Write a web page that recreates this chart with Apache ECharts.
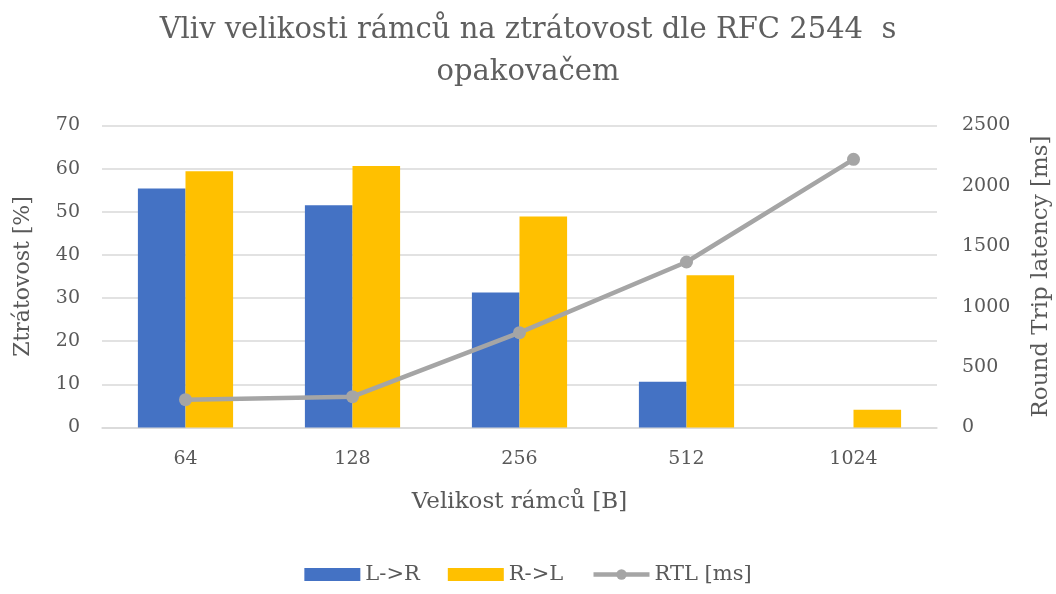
<!DOCTYPE html>
<html>
<head>
<meta charset="utf-8">
<script src="https://cdn.jsdelivr.net/npm/echarts@6/dist/echarts.min.js"></script>
<style>html,body{margin:0;padding:0;background:#fff}#c{width:1056px;height:594px}</style>
</head>
<body>
<div id="c"></div>
<script>
const categories = ['64', '128', '256', '512', '1024'];
const lToR = [55.4, 51.5, 31.3, 10.6, 0];
const rToL = [59.4, 60.6, 48.9, 35.3, 4.1];
const rtl = [230, 255, 785, 1370, 2220];
const leftTicks = {min: 0, max: 70, interval: 10};
const rightTicks = {min: 0, max: 2500, interval: 500};

const FONT = 'DejaVu Serif';
const TXT = '#595959';
const chart = echarts.init(document.getElementById('c'));
chart.setOption({
  animation: false,
  title: {
    text: 'Vliv velikosti rámců na ztrátovost dle RFC 2544  s\nopakovačem',
    left: 'center', top: 4,
    textStyle: {fontFamily: FONT, fontWeight: 'normal', fontSize: 29, lineHeight: 42, color: '#5f5f5f'}
  },
  grid: {left: 102, right: 119, top: 125.5, bottom: 166.5, containLabel: false, outerBoundsMode: 'none'},
  legend: {
    bottom: 4, left: 'center', itemGap: 28, itemWidth: 56, itemHeight: 13,
    textStyle: {fontFamily: FONT, fontSize: 21, color: TXT},
    data: [{name: 'L->R', icon: 'rect'}, {name: 'R->L', icon: 'rect'},
           {name: 'RTL [ms]', lineStyle: {width: 4.5, color: '#A5A5A5'}}]
  },
  xAxis: {
    type: 'category', data: categories,
    name: 'Velikost rámců [B]', nameLocation: 'middle', nameGap: 63,
    nameTextStyle: {fontFamily: FONT, fontSize: 23, color: TXT},
    axisLine: {lineStyle: {color: '#d9d9d9', width: 1.5}},
    axisTick: {show: false},
    axisLabel: {fontFamily: FONT, fontSize: 19, color: TXT, margin: 22}
  },
  yAxis: [{
    type: 'value', min: leftTicks.min, max: leftTicks.max, interval: leftTicks.interval,
    name: 'Ztrátovost [%]', nameLocation: 'middle', nameGap: 68,
    nameTextStyle: {fontFamily: FONT, fontSize: 22, color: TXT},
    axisLine: {show: false}, axisTick: {show: false},
    axisLabel: {fontFamily: FONT, fontSize: 19, color: TXT, margin: 22},
    splitLine: {lineStyle: {color: '#d9d9d9', width: 1.5}}
  }, {
    type: 'value', min: rightTicks.min, max: rightTicks.max, interval: rightTicks.interval,
    name: 'Round Trip latency [ms]', nameLocation: 'middle', nameGap: 93,
    nameTextStyle: {fontFamily: FONT, fontSize: 23, color: TXT},
    axisLine: {show: false}, axisTick: {show: false},
    axisLabel: {fontFamily: FONT, fontSize: 19, color: TXT, margin: 25, formatter: v => String(v)},
    splitLine: {show: false}
  }],
  series: [{
    name: 'L->R', type: 'bar', data: lToR, barGap: '0%', barCategoryGap: '43%',
    itemStyle: {color: '#4472C4'}
  }, {
    name: 'R->L', type: 'bar', data: rToL,
    itemStyle: {color: '#FFC000'}
  }, {
    name: 'RTL [ms]', type: 'line', yAxisIndex: 1, data: rtl,
    symbol: 'circle', symbolSize: 13,
    lineStyle: {color: '#A5A5A5', width: 4.5},
    itemStyle: {color: '#A5A5A5'}
  }]
});
</script>
</body>
</html>
